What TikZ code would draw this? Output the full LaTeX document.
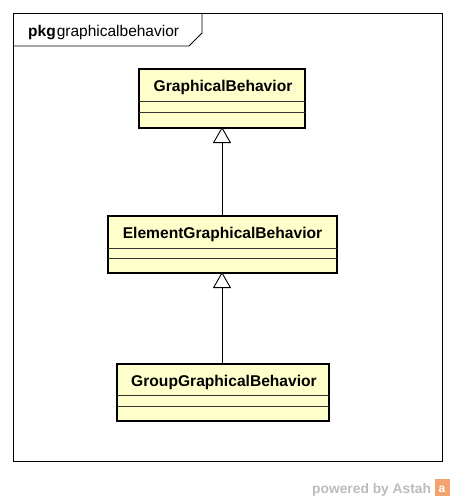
\documentclass[tikz,border=0pt]{standalone}
\usepackage{fontspec}
\setmainfont{Liberation Sans}
\usetikzlibrary{arrows.meta}
\definecolor{clsfill}{HTML}{FFFFCC}
\definecolor{wmgray}{HTML}{BBBBBB}
\definecolor{wmorange}{HTML}{F2A36E}
\tikzset{
  clsbox/.style={draw=black, line width=2.8pt, fill=clsfill},
  compline/.style={draw=black!80, line width=0.8pt},
  clsname/.style={font=\fontsize{15.6}{17}\selectfont\bfseries, inner sep=0pt},
  gen/.style={draw=black, line width=0.9pt, -{Triangle[open, width=18pt, length=16pt, fill=white]}},
}
\begin{document}
\begin{tikzpicture}[x=1pt, y=-1pt]
\useasboundingbox (0,0) rectangle (456,500);
% package frame
\draw[line width=0.9pt] (13,13) rectangle (442,461);
\draw[line width=0.9pt] (13,46) -- (189,46) -- (202,33) -- (202,13);
\node[anchor=base west, inner sep=0pt, font=\fontsize{15.5}{17}\selectfont] (pkg) at (28,37) {\textbf{pkg}\hspace{1pt}graphicalbehavior};
% class 1
\path[clsbox] (139,69) rectangle (305,128);
\draw[compline] (139,101) -- (305,101);
\draw[compline] (139,112) -- (305,112);
\node[clsname] (c1) at (223,87) {GraphicalBehavior};
\coordinate (c1b) at (222,127);
% class 2
\path[clsbox] (108,216) rectangle (337,273);
\draw[compline] (108,248) -- (337,248);
\draw[compline] (108,258) -- (337,258);
\node[clsname] (c2) at (222.5,234) {ElementGraphicalBehavior};
\coordinate (c2t) at (222,215);
\coordinate (c2b) at (222,272);
% class 3
\path[clsbox] (117,364) rectangle (329,421);
\draw[compline] (117,395) -- (329,395);
\draw[compline] (117,406) -- (329,406);
\node[clsname] (c3) at (224,382) {GroupGraphicalBehavior};
\coordinate (c3t) at (222,363);
% generalizations
\draw[gen] (c2t) -- (c1b);
\draw[gen] (c3t) -- (c2b);
% watermark
\node[anchor=base west, inner sep=0pt, text=wmgray, font=\fontsize{13.8}{15}\selectfont\bfseries] (wm) at (312,493) {powered by Astah};
\path[fill=wmorange] (435,479) rectangle (450,496);
\node[inner sep=0pt, text=white, font=\fontsize{12}{12}\selectfont\bfseries] (logo) at (442,489) {a};
\end{tikzpicture}
\end{document}
